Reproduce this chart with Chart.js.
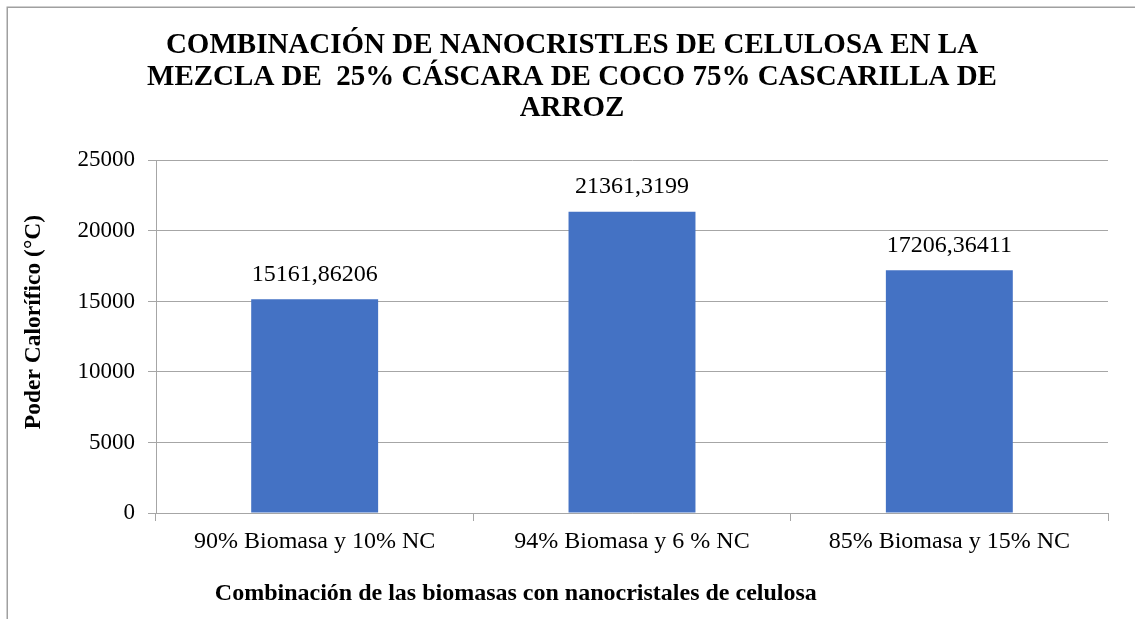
<!DOCTYPE html>
<html><head><meta charset="utf-8">
<script src="https://cdn.jsdelivr.net/npm/chart.js@4"></script>
<style>html,body{margin:0;padding:0;background:#fff;overflow:hidden}#wrap{width:1135px;height:619px;position:relative}</style>
</head><body><div id="wrap"><canvas id="c" width="1135" height="619"></canvas></div>
<script>
const categories = ['90% Biomasa y 10% NC', '94% Biomasa y 6 % NC', '85% Biomasa y 15% NC'];
const values = [15161.86206, 21361.3199, 17206.36411];
const valueLabels = ['15161,86206', '21361,3199', '17206,36411'];
const yTicks = [0, 5000, 10000, 15000, 20000, 25000];
const titleLines = ['COMBINACIÓN DE NANOCRISTLES DE CELULOSA EN LA', 'MEZCLA DE  25% CÁSCARA DE COCO 75% CASCARILLA DE', 'ARROZ'];
const yTitle = 'Poder Calorífico (°C)';
const xTitle = 'Combinación de las biomasas con nanocristales de celulosa';

const FAM = "'Liberation Serif', 'Times New Roman', serif";
const GRID = '#a6a6a6';

const frame = {
  id: 'frame',
  beforeDraw(chart) {
    const ctx = chart.ctx;
    ctx.save();
    ctx.fillStyle = '#fff';
    ctx.fillRect(0, 0, chart.width, chart.height);
    ctx.strokeStyle = '#a0a0a0';
    ctx.lineWidth = 1.5;
    ctx.strokeRect(7.25, 7.25, 2000, 2000);
    ctx.restore();
  }
};
const dataLabels = {
  id: 'dataLabels',
  afterDatasetsDraw(chart) {
    const ctx = chart.ctx;
    const meta = chart.getDatasetMeta(0);
    ctx.save();
    ctx.font = '24px ' + FAM;
    ctx.fillStyle = '#000';
    ctx.textAlign = 'center';
    ctx.textBaseline = 'alphabetic';
    meta.data.forEach((el, i) => {
      ctx.fillText(valueLabels[i], el.x, el.y - 18.5);
    });
    ctx.restore();
  }
};

new Chart(document.getElementById('c'), {
  type: 'bar',
  data: {
    labels: categories,
    datasets: [{
      data: values,
      backgroundColor: '#4472C4',
      borderWidth: 0,
      barPercentage: 0.4,
      categoryPercentage: 1.0
    }]
  },
  plugins: [frame, dataLabels],
  options: {
    responsive: false,
    animation: false,
    devicePixelRatio: 1,
    layout: { padding: { left: 9, right: 0, top: 0, bottom: 0 } },
    plugins: {
      legend: { display: false },
      tooltip: { enabled: false },
      title: {
        display: true,
        text: titleLines,
        color: '#000',
        font: { family: FAM, size: 29, weight: 'bold', lineHeight: 1.09 },
        padding: { top: 29.7, bottom: 35.9 }
      }
    },
    scales: {
      x: {
        offset: true,
        grid: { offset: true, drawOnChartArea: false, drawTicks: true, tickLength: 8, color: GRID },
        border: { color: GRID, width: 1 },
        ticks: { color: '#000', font: { family: FAM, size: 24 }, padding: 6.6, maxRotation: 0, autoSkip: false },
        title: {
          display: true,
          text: '\u00a0'.repeat(9) + '\u2009' + xTitle,
          align: 'start',
          color: '#000',
          font: { family: FAM, size: 24, weight: 'bold', lineHeight: 1.2 },
          padding: { top: 0, bottom: 10.6 }
        },
        afterFit(s) { s.height = 106; }
      },
      y: {
        min: 0, max: 25000,
        afterBuildTicks(s) { s.ticks = yTicks.map(v => ({ value: v })); },
        grid: { color: GRID, tickLength: 8, drawTicks: true },
        border: { color: GRID, width: 1 },
        ticks: { color: '#000', font: { family: FAM, size: 23 }, padding: 13, callback: v => String(v) },
        title: {
          display: true,
          text: '\u00a0'.repeat(5) + yTitle,
          color: '#000',
          font: { family: FAM, size: 23.5, weight: 'bold', lineHeight: 1.2 },
          padding: { top: 10.9, bottom: 0 }
        },
        afterFit(s) { s.width = 147; }
      },
      yr: {
        position: 'right',
        display: true,
        grid: { display: false },
        border: { display: false },
        ticks: { display: false },
        afterFit(s) { s.width = 27; }
      }
    }
  }
});
</script></body></html>
